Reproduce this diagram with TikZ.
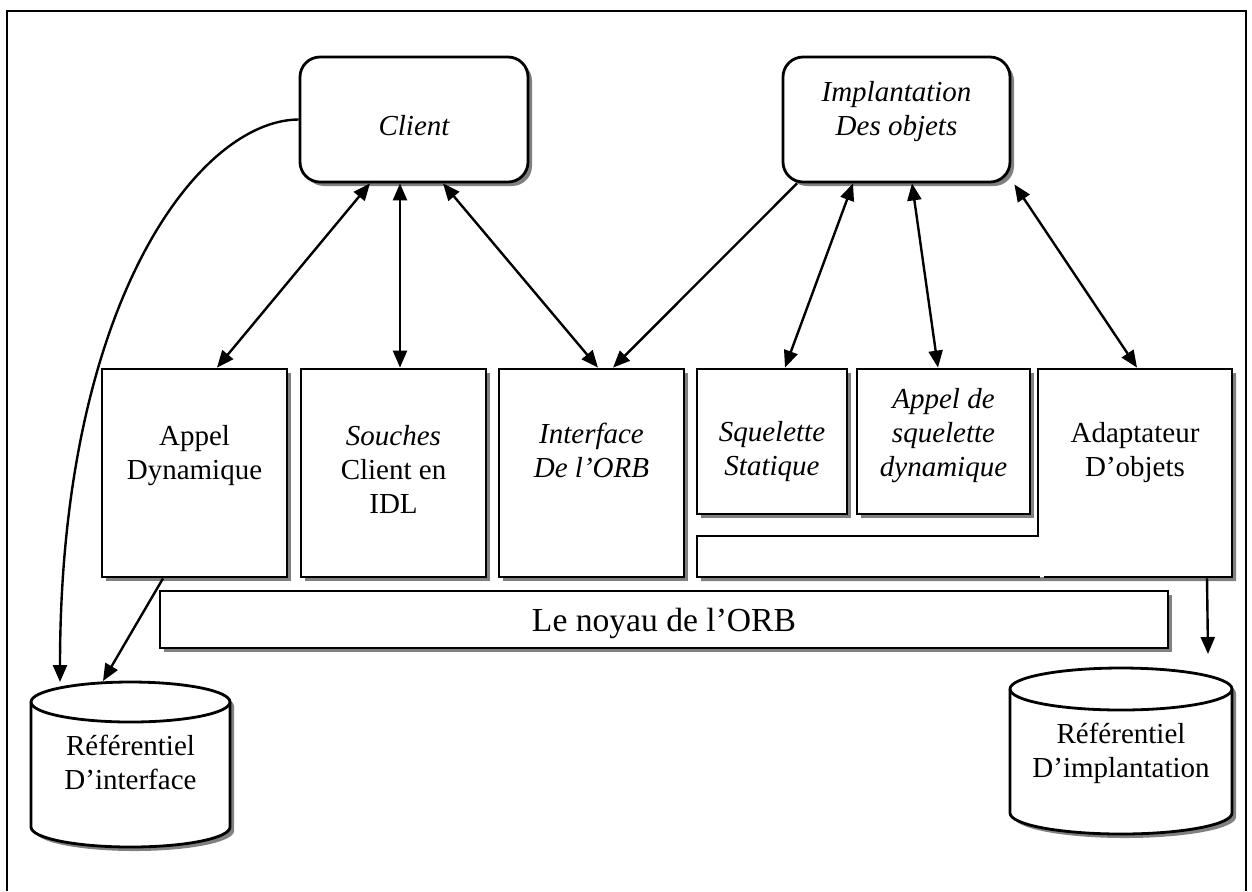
\documentclass[tikz,border=0pt]{standalone}
\usepackage{fontspec}
\setmainfont{Liberation Serif}
\usetikzlibrary{shadows,calc,arrows.meta}
\begin{document}
\begin{tikzpicture}[x=0.5pt,y=-0.5pt,
  line width=1.4pt,
  shadowed/.style={general shadow={fill=black!50,shadow xshift=2pt,shadow yshift=-2pt}},
  box/.style={draw,fill=white,shadowed,inner sep=0pt},
  rbox/.style={box,rounded corners=10pt},
  txt/.style={inner sep=0pt,align=center,anchor=north,font=\fontsize{14.5}{17}\selectfont},
  itxt/.style={txt,font=\fontsize{14.5}{17}\selectfont\itshape},
  link/.style={line width=1.2pt},
  onehead/.style={link,-{Triangle[length=8.5pt,width=7pt]}},
  twohead/.style={link,{Triangle[length=8.5pt,width=7pt]}-{Triangle[length=8.5pt,width=7pt]}}
]
\useasboundingbox (0,0) rectangle (1252,891);
\fill[white] (0,0) rectangle (1252,891);

% outer frame
\draw[line width=1pt] (7,891) -- (7,10.5) -- (1246,10.5) -- (1246,891);

% top level: client and object implementation
\node[rbox,minimum width=114pt,minimum height=62.5pt] (client) at (414,119.5) {};
\node[rbox,minimum width=113.5pt,minimum height=62.5pt] (impl) at (896.5,119.5) {};

% middle row
\node[box,minimum width=92.5pt,minimum height=104pt] (appel) at (194.5,473) {};
\node[box,minimum width=92.5pt,minimum height=104pt] (souches) at (393.5,473) {};
\node[box,minimum width=92.5pt,minimum height=104pt] (iface) at (591.5,473) {};
\node[box,minimum width=75pt,minimum height=72.5pt] (sstat) at (772,441.5) {};
\node[box,minimum width=86.5pt,minimum height=72.5pt] (sdyn) at (943.5,441.5) {};

% object adapter: L-shaped block
\fill[black!50,shift={(4,4)}] (1038,369) -- (1232,369) -- (1232,577) -- (697,577) -- (697,536) -- (1038,536) -- cycle;
\fill[white] (1038,369) -- (1232,369) -- (1232,577) -- (697,577) -- (697,536) -- (1038,536) -- cycle;
\draw (1044,577) -- (1232,577) -- (1232,369) -- (1038,369) -- (1038,536) -- (697,536) -- (697,577) -- (1040,577);
\node[inner sep=0pt,minimum width=97pt,minimum height=104pt] (adapt) at (1135,473) {};

% ORB core
\node[box,minimum width=504pt,minimum height=28.5pt] (noyau) at (664,619.5) {};
\node[inner sep=0pt,anchor=base,font=\fontsize{16.8}{20}\selectfont] (noyau-t) at (664,631) {Le noyau de l’ORB};

% interface repository
\fill[black!50,shift={(4,4)}] (31,702) -- (31,827) arc[start angle=180,end angle=360,x radius=49.75pt,y radius=10pt] -- (230,702) arc[start angle=0,end angle=180,x radius=49.75pt,y radius=10pt] -- cycle;
\filldraw[fill=white] (31,702) -- (31,827) arc[start angle=180,end angle=360,x radius=49.75pt,y radius=10pt] -- (230,702) arc[start angle=0,end angle=180,x radius=49.75pt,y radius=10pt] -- cycle;
\draw (31,702) arc[start angle=180,end angle=360,x radius=49.75pt,y radius=10pt];

% implementation repository
\fill[black!50,shift={(4,4)}] (1010,689) -- (1010,813) arc[start angle=180,end angle=360,x radius=55.5pt,y radius=10.5pt] -- (1232,689) arc[start angle=0,end angle=180,x radius=55.5pt,y radius=10.5pt] -- cycle;
\filldraw[fill=white] (1010,689) -- (1010,813) arc[start angle=180,end angle=360,x radius=55.5pt,y radius=10.5pt] -- (1232,689) arc[start angle=0,end angle=180,x radius=55.5pt,y radius=10.5pt] -- cycle;
\draw (1010,689) arc[start angle=180,end angle=360,x radius=55.5pt,y radius=10.5pt];

\coordinate (ri-a) at (60,682);
\coordinate (ri-b) at (103,681);
\coordinate (rr-a) at (1208,654);

% labels
\node[itxt,anchor=base] (client-t) at (414,135) {Client};
\node[itxt] (impl-t) at (896.5,80) {Implantation\\Des objets};
\node[txt] (appel-t) at (194.5,424) {Appel\\Dynamique};
\node[txt] (souches-t) at (393.5,424) {\textit{Souches}\\Client en\\IDL};
\node[itxt] (iface-t) at (591.5,422) {Interface\\De l’ORB};
\node[itxt] (sstat-t) at (772,420) {Squelette\\Statique};
\node[itxt] (sdyn-t) at (943.5,387) {Appel de\\squelette\\dynamique};
\node[txt] (adapt-t) at (1135,421) {Adaptateur\\D’objets};
\node[txt] (ri-t) at (130.5,734) {Référentiel\\D’interface};
\node[txt] (rr-t) at (1121,722) {Référentiel\\D’implantation};

% connectors
\draw[twohead] ($(client.south)+(-44,0)$) -- ($(appel.north)+(22.5,0)$);
\draw[twohead] ($(client.south)+(-14,0)$) -- ($(souches.north)+(6.5,0)$);
\draw[twohead] ($(client.south)+(29,0)$) -- ($(iface.north)+(6.5,0)$);
\draw[onehead] ($(impl.south)+(-99.5,0)$) -- ($(iface.north)+(21.5,0)$);
\draw[twohead] ($(impl.south)+(-43.5,0)$) -- ($(sstat.north)+(13,0)$);
\draw[twohead] ($(impl.south)+(15.5,0)$) -- ($(sdyn.north)+(-5.5,0)$);
\draw[twohead] ($(impl.south east)+(3,1)$) -- ($(adapt.north)+(2,0)$);
\draw[onehead] ($(adapt.south)+(72,0)$) -- (rr-a);
\draw[onehead] ($(appel.south)+(-31.5,0)$) -- (ri-b);
\draw[onehead] (client.west) .. controls (200,120) and (60,300) .. (ri-a);
\end{tikzpicture}
\end{document}
